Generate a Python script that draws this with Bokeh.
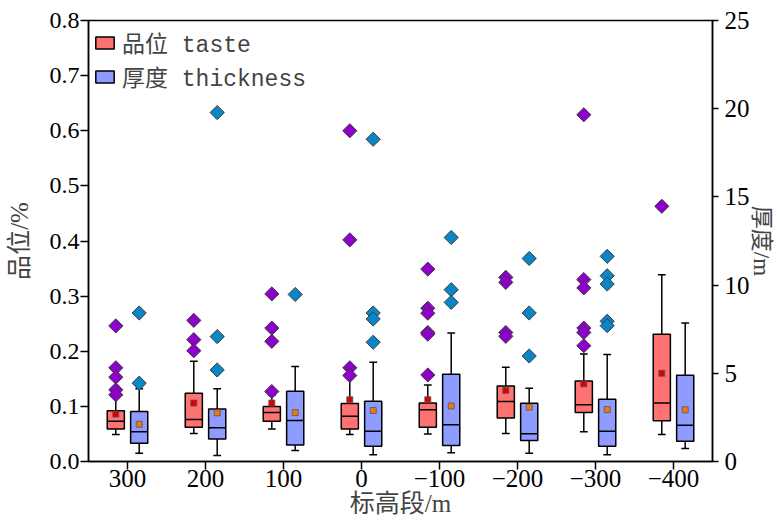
import math
from bokeh.plotting import figure
from bokeh.models import (Range1d, LinearAxis, FixedTicker, PrintfTickFormatter,
                          Legend, LegendItem)
from bokeh.embed import file_html
from bokeh.resources import INLINE

# ---------------- data ----------------
elev_labels = ["300", "200", "100", "0", "\u2212100", "\u2212200", "\u2212300", "\u2212400"]

# 品位 taste (%)  -> left axis
taste_lo   = [0.049, 0.051, 0.059, 0.049, 0.050, 0.051, 0.054, 0.049]
taste_q1   = [0.059, 0.062, 0.073, 0.059, 0.062, 0.079, 0.089, 0.074]
taste_med  = [0.073, 0.076, 0.089, 0.082, 0.094, 0.109, 0.103, 0.106]
taste_q3   = [0.092, 0.124, 0.100, 0.105, 0.106, 0.137, 0.146, 0.231]
taste_hi   = [0.117, 0.182, 0.120, 0.159, 0.139, 0.171, 0.195, 0.339]
taste_mean = [0.086, 0.106, 0.106, 0.112, 0.112, 0.129, 0.141, 0.160]
taste_out  = [
    [0.246, 0.170, 0.153, 0.130, 0.121],
    [0.256, 0.221, 0.201],
    [0.304, 0.242, 0.218, 0.127],
    [0.600, 0.402, 0.170, 0.156],
    [0.349, 0.278, 0.269, 0.234, 0.231, 0.157],
    [0.334, 0.325, 0.234, 0.227],
    [0.629, 0.330, 0.315, 0.242, 0.234, 0.210],
    [0.463],
]

# 厚度 thickness (m) -> right axis
thick_lo   = [0.47, 0.34, 0.62, 0.38, 0.49, 0.47, 0.38, 0.74]
thick_q1   = [1.04, 1.28, 0.94, 0.87, 0.91, 1.19, 0.87, 1.15]
thick_med  = [1.68, 1.91, 2.32, 1.72, 2.08, 1.57, 1.72, 2.06]
thick_q3   = [2.83, 2.98, 3.98, 3.41, 4.94, 3.30, 3.53, 4.89]
thick_hi   = [4.12, 4.12, 5.38, 5.62, 7.29, 4.15, 6.06, 7.85]
thick_mean = [2.11, 2.76, 2.77, 2.89, 3.15, 3.08, 2.94, 2.93]
thick_out  = [
    [8.42, 4.44],
    [19.78, 7.08, 5.19],
    [9.47],
    [18.27, 8.42, 8.08, 6.76],
    [12.70, 9.74, 9.02],
    [11.51, 8.42, 5.98],
    [11.63, 10.53, 10.06, 7.95, 7.70],
    [],
]

left_ticks = [0.0, 0.1, 0.2, 0.3, 0.4, 0.5, 0.6, 0.7, 0.8]
right_ticks = [0, 5, 10, 15, 20, 25]

# ---------------- styling ----------------
OFF = 0.15
BOX_W = 0.22
CAP_W = 0.10
TASTE_FILL = "#FF7272"
THICK_FILL = "#8E9BFF"
TASTE_OUT = "#8E00CC"
THICK_OUT = "#0A85C6"
TASTE_MEAN = "#DD0000"
THICK_MEAN = "#E87A10"
SERIF = "Liberation Serif, Noto Sans CJK SC"

p = figure(width=776, height=525, output_backend="svg", toolbar_location=None,
           x_range=Range1d(-0.5, 7.5), y_range=Range1d(0, 0.8),
           min_border_left=88, min_border_right=59, min_border_top=20,
           min_border_bottom=64)
p.extra_y_ranges = {"thick": Range1d(0, 25)}
p.grid.visible = False
p.outline_line_color = "black"
p.outline_line_width = 1.5
p.background_fill_color = "white"


def draw_series(idx_off, lo, q1, med, q3, hi, mean, outs, fill, out_color, mean_color, yname=None):
    xs = [i + idx_off for i in range(len(q1))]
    kw = {} if yname is None else {"y_range_name": yname}
    p.segment(x0=xs, x1=xs, y0=q3, y1=hi, line_color="black", line_width=1.5, **kw)
    p.segment(x0=xs, x1=xs, y0=lo, y1=q1, line_color="black", line_width=1.5, **kw)
    p.segment(x0=[x - CAP_W / 2 for x in xs], x1=[x + CAP_W / 2 for x in xs],
              y0=hi, y1=hi, line_color="black", line_width=1.5, **kw)
    p.segment(x0=[x - CAP_W / 2 for x in xs], x1=[x + CAP_W / 2 for x in xs],
              y0=lo, y1=lo, line_color="black", line_width=1.5, **kw)
    box = p.vbar(x=xs, width=BOX_W, bottom=q1, top=q3, fill_color=fill,
                 line_color="black", line_width=1.5, **kw)
    p.segment(x0=[x - BOX_W / 2 for x in xs], x1=[x + BOX_W / 2 for x in xs],
              y0=med, y1=med, line_color="black", line_width=1.5, **kw)
    p.scatter(x=xs, y=mean, marker="square", size=6, fill_color=mean_color,
              line_color="#555555", line_width=0.8, **kw)
    ox, oy = [], []
    for x, vals in zip(xs, outs):
        for v in vals:
            ox.append(x)
            oy.append(v)
    p.scatter(x=ox, y=oy, marker="square", size=10, angle=math.pi / 4,
              fill_color=out_color, line_color="#3a3a3a", line_width=1.0, **kw)
    return box


taste_box = draw_series(-OFF, taste_lo, taste_q1, taste_med, taste_q3, taste_hi,
                        taste_mean, taste_out, TASTE_FILL, TASTE_OUT, TASTE_MEAN)
thick_box = draw_series(OFF, thick_lo, thick_q1, thick_med, thick_q3, thick_hi,
                        thick_mean, thick_out, THICK_FILL, THICK_OUT, THICK_MEAN, "thick")

# ---------------- axes ----------------
right_axis = LinearAxis(y_range_name="thick")
p.add_layout(right_axis, "right")

xa = p.below[0]
xa.ticker = FixedTicker(ticks=list(range(len(elev_labels))))
xa.major_label_overrides = {i: s for i, s in enumerate(elev_labels)}
xa.minor_tick_line_color = None
xa.major_tick_out = 8
xa.major_tick_in = 0
xa.major_label_standoff = 0
xa.major_label_text_font = SERIF
xa.major_label_text_font_size = "25px"
xa.major_label_text_color = "black"
xa.axis_label = "标高段/m"
xa.axis_label_text_font = SERIF
xa.axis_label_text_font_style = "normal"
xa.axis_label_text_font_size = "25px"
xa.axis_label_standoff = 0

ya = p.left[0]
ya.ticker = FixedTicker(ticks=left_ticks)
ya.formatter = PrintfTickFormatter(format="%.1f")
ya.minor_tick_line_color = None
ya.major_tick_out = 8
ya.major_tick_in = 0
ya.major_label_standoff = 1
ya.major_label_text_font = SERIF
ya.major_label_text_font_size = "24px"
ya.major_label_text_color = "black"
ya.axis_label = "品位/%"
ya.axis_label_text_font = SERIF
ya.axis_label_text_font_style = "normal"
ya.axis_label_text_font_size = "25px"
ya.axis_label_standoff = 14

right_axis.ticker = FixedTicker(ticks=right_ticks)
right_axis.minor_tick_line_color = None
right_axis.major_tick_out = 6
right_axis.major_tick_in = 0
right_axis.major_label_standoff = 6
right_axis.major_label_text_font = SERIF
right_axis.major_label_text_font_size = "25px"
right_axis.major_label_text_color = "black"
right_axis.axis_label = "厚度/m"
right_axis.axis_label_text_font = SERIF
right_axis.axis_label_text_font_style = "normal"
right_axis.axis_label_text_font_size = "23px"
right_axis.axis_label_standoff = -4

for ax in (xa, ya, right_axis):
    ax.axis_line_width = 1.5
    ax.major_tick_line_width = 1.5
    ax.axis_line_color = "black"
    ax.major_tick_line_color = "black"

# ---------------- legend ----------------
legend = Legend(items=[LegendItem(label="品位 taste", renderers=[taste_box]),
                       LegendItem(label="厚度 thickness", renderers=[thick_box])],
                location="top_left", label_text_font="Liberation Mono, Noto Sans CJK SC",
                label_text_font_size="23px", glyph_width=23, glyph_height=15,
                margin=5, padding=8, spacing=-5, label_standoff=6,
                border_line_color=None, background_fill_alpha=0)
p.add_layout(legend)

open("out.html", "w").write(file_html(p, INLINE))
